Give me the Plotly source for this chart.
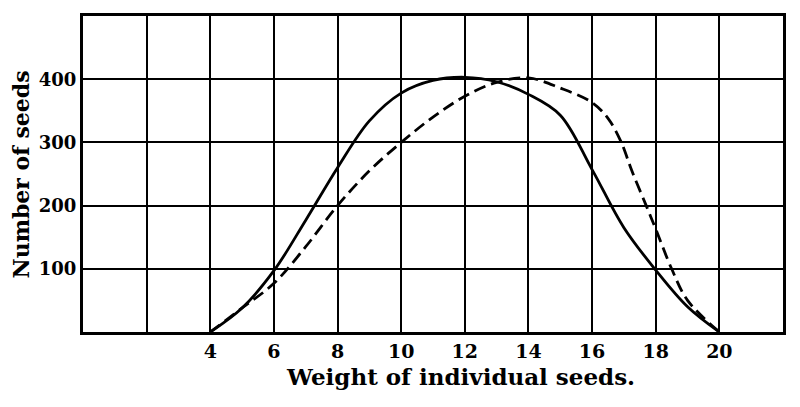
import plotly.graph_objects as go

# solid curve
solid_x = [4, 5, 6, 7, 8, 9, 10, 11, 12, 13, 14, 15, 16, 17, 18, 19, 20]
solid_y = [0, 38, 97, 177, 260, 334, 378, 398, 403, 396, 376, 343, 257, 165, 98, 40, 0]

# dashed curve
dash_x = [4, 5, 6, 7, 8, 9, 10, 11, 12, 13, 14, 15, 16, 16.5, 16.9, 17.25, 17.7, 18, 18.5, 19, 20]
dash_y = [0, 38, 77, 135, 200, 255, 300, 340, 373, 395, 402, 386, 363, 338, 302, 255, 200, 163, 100, 50, 0]

x_ticks = [2, 4, 6, 8, 10, 12, 14, 16, 18, 20]
x_labels = ["", "4", "6", "8", "10", "12", "14", "16", "18", "20"]
y_ticks = [100, 200, 300, 400]
y_labels = ["100", "200", "300", "400"]

serif = "DejaVu Serif"

fig = go.Figure()
fig.add_trace(go.Scatter(x=solid_x, y=solid_y, mode="lines", line_shape="spline",
                         line=dict(color="black", width=2.8)))
fig.add_trace(go.Scatter(x=dash_x, y=dash_y, mode="lines", line_shape="spline",
                         line=dict(color="black", width=2.8, dash="12px,6px")))

# page body has an 8px margin, so the margins are set to land the plot where the reference has it
fig.update_layout(
    width=800, height=407,
    margin=dict(l=75, r=25, t=5, b=83),
    plot_bgcolor="white", paper_bgcolor="white",
    showlegend=False,
    xaxis=dict(range=[0, 22], tickvals=x_ticks, ticktext=x_labels,
               showgrid=True, gridcolor="black", gridwidth=2, zeroline=False,
               showline=True, linecolor="black", linewidth=3, mirror=True,
               ticks="", tickfont=dict(family=serif, size=19, color="black", weight="bold")),
    yaxis=dict(range=[0, 500], tickvals=y_ticks, ticktext=y_labels,
               showgrid=True, gridcolor="black", gridwidth=2, zeroline=False,
               showline=True, linecolor="black", linewidth=3, mirror=True,
               ticks="", tickfont=dict(family=serif, size=18, color="black", weight="bold")),
    annotations=[
        dict(text="Weight of individual seeds.", xref="paper", yref="paper",
             x=0.539, y=0, yshift=-29, xanchor="center", yanchor="top", showarrow=False,
             font=dict(family=serif, size=23, color="black", weight="bold")),
        dict(text="Number of seeds", xref="paper", yref="paper",
             x=-0.088, y=0.5, textangle=-90, xanchor="center", yanchor="middle", showarrow=False,
             font=dict(family=serif, size=22, color="black", weight="bold")),
    ],
)

fig.write_html("out.html")
